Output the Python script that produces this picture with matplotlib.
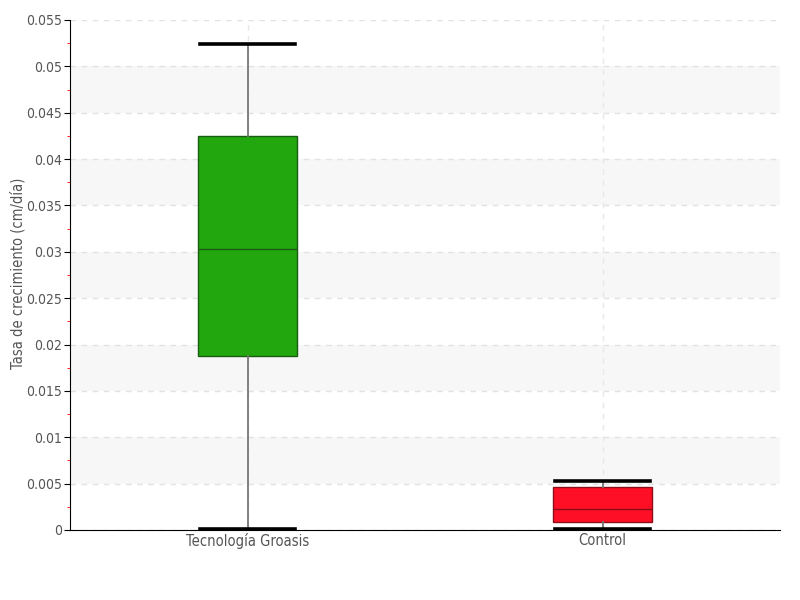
import matplotlib
matplotlib.use("Agg")
import matplotlib.pyplot as plt
import numpy as np

categories = ["Tecnología Groasis", "Control"]
whisker_low = [0.0001, 0.0001]
q1 = [0.01876, 0.00086]
median = [0.0303, 0.00226]
q3 = [0.04249, 0.00464]
whisker_high = [0.0524, 0.00528]
face_colors = ["#22a70f", "#ff0f25"]
edge_colors = ["#1a5c12", "#8a0f1a"]
yticks = [0, 0.005, 0.01, 0.015, 0.02, 0.025, 0.03, 0.035, 0.04, 0.045, 0.05, 0.055]
ytick_labels = ["0", "0.005", "0.01", "0.015", "0.02", "0.025", "0.03", "0.035", "0.04", "0.045", "0.05", "0.055"]

plt.rcParams['font.family'] = ['DejaVu Sans']
plt.rcParams['font.stretch'] = 'condensed'

fig = plt.figure(figsize=(8, 6), dpi=100)
ax = fig.add_axes([0.0875, 0.1167, 0.8875, 0.85])

# alternating bands
for i in range(len(yticks) - 1):
    if i % 2 == 1:
        ax.axhspan(yticks[i], yticks[i + 1], color="#f7f7f7", zorder=0, lw=0)

for y in yticks:
    ax.axhline(y, color="#e2e2e2", lw=1, ls=(0, (4, 4)), zorder=0.5)

positions = np.arange(len(categories))
for p in positions:
    ax.axvline(p, color="#e8e8e8", lw=1, ls=(0, (4, 4)), zorder=0.5)

stats = []
for i, c in enumerate(categories):
    stats.append(dict(label=c, whislo=whisker_low[i], q1=q1[i], med=median[i],
                      q3=q3[i], whishi=whisker_high[i], fliers=[]))

for i in range(len(categories)):
    ax.bxp([stats[i]], positions=[positions[i]], widths=0.28, patch_artist=True,
           showfliers=False,
           boxprops=dict(facecolor=face_colors[i], edgecolor=edge_colors[i], lw=1),
           medianprops=dict(color=edge_colors[i], lw=1),
           whiskerprops=dict(color="#777777", lw=1.3),
           capprops=dict(color="black", lw=2.6),
           capwidths=0.27, zorder=3)

ax.set_xlim(-0.5, 1.5)
ax.set_ylim(0, 0.055)
ax.set_xticks(positions)
ax.set_xticklabels(categories)
ax.set_yticks(yticks)
ax.set_yticklabels(ytick_labels)
ax.set_yticks([y + 0.0025 for y in yticks[:-1]], minor=True)
ax.tick_params(axis='y', which='major', length=4, color='black', labelsize=10, labelcolor='#555555', pad=2)
ax.tick_params(axis='y', which='minor', length=2, color='red')
ax.tick_params(axis='x', length=0, labelsize=10.5, labelcolor='#555555', pad=2)
ax.set_ylabel("Tasa de crecimiento (cm/día)", fontsize=10.5, color='#555555',
              va='center')
ax.yaxis.set_label_coords(-0.074, 0.504)

for s in ["top", "right"]:
    ax.spines[s].set_visible(False)
ax.spines["left"].set_color("black")
ax.spines["bottom"].set_color("black")

fig.savefig("out.png", dpi=100)
